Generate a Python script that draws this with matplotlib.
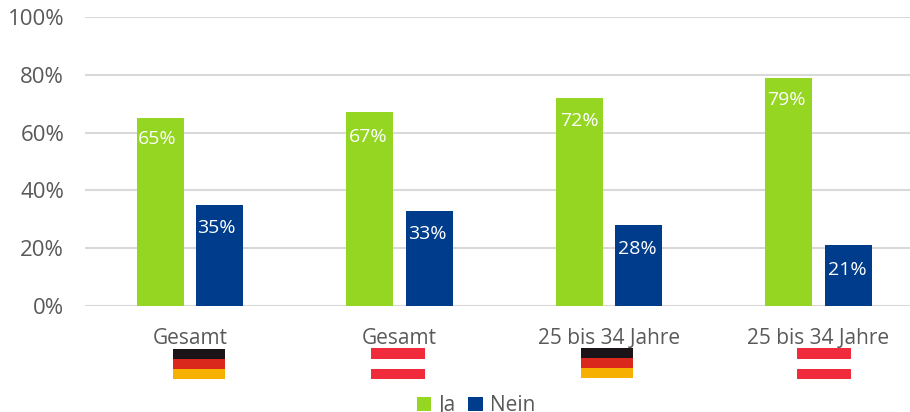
import matplotlib
matplotlib.use('Agg')
import matplotlib.pyplot as plt
from matplotlib.patches import Rectangle
from matplotlib.transforms import blended_transform_factory
import numpy as np

categories = ['Gesamt', 'Gesamt', '25 bis 34 Jahre', '25 bis 34 Jahre']
flags = ['de', 'at', 'de', 'at']
ja = [65, 67, 72, 79]
nein = [35, 33, 28, 21]
yticks = [0, 20, 40, 60, 80, 100]

GREEN = '#94D621'
BLUE = '#003C8C'
TEXT = '#595959'
W, H = 910, 412

plt.rcParams['font.family'] = ['Open Sans', 'DejaVu Sans']

fig = plt.figure(figsize=(W / 100, H / 100), dpi=100)
# plot area in pixels: x 85..910, y 17..306 from the top
ax = fig.add_axes([85 / W, 1 - 306 / H, (910 - 85) / W, (306 - 17) / H])

x = np.arange(len(categories))
step = 209.5
bw = 47 / step
off = 29.75 / step
ax.bar(x - off, ja, bw, color=GREEN, label='Ja', zorder=3)
ax.bar(x + off, nein, bw, color=BLUE, label='Nein', zorder=3)

ax.set_xlim(-0.5, -0.5 + 825 / step)
ax.set_ylim(0, 100)
ax.set_yticks(yticks)
ax.set_yticklabels([f'{v}%' for v in yticks], fontsize=16, color=TEXT)
ax.set_xticks(x)
ax.set_xticklabels(categories, fontsize=15, color=TEXT)
ax.tick_params(axis='both', length=0)
ax.tick_params(axis='y', pad=15)
ax.tick_params(axis='x', pad=16)
ax.grid(axis='y', color='#D9D9D9', linewidth=1.5, zorder=0)
ax.set_axisbelow(True)
for s in ax.spines.values():
    s.set_visible(False)

# value labels were placed by hand in the original, so each has its own nudge (pixels)
px = 72 / 100
ja_nudge = [(-3, -21.3), (-1, -25), (0, -22.7), (-2.5, -21.9)]
nein_nudge = [(-2.7, -23.5), (-2, -23), (-1.5, -24), (-1, -24.3)]
for i in x:
    dx, dy = ja_nudge[i]
    ax.annotate(f'{ja[i]}%', (i - off, ja[i]), xytext=(dx * px, dy * px), textcoords='offset points',
                ha='center', va='center', color='white', fontsize=14)
    dx, dy = nein_nudge[i]
    ax.annotate(f'{nein[i]}%', (i + off, nein[i]), xytext=(dx * px, dy * px), textcoords='offset points',
                ha='center', va='center', color='white', fontsize=14)

# flags under the tick labels, x from data, y in figure pixels
tr = blended_transform_factory(ax.transData, fig.dpi_scale_trans)


def stripe(xc, top, bottom, width, color):
    y0 = (H - bottom) / 100
    w = width / step
    ax.add_patch(Rectangle((xc - w / 2, y0), w, (bottom - top) / 100, transform=tr,
                           facecolor=color, edgecolor='none', clip_on=False))


flag_shift = [9, -1, -2, 5.5]
flag_top = [349, 348, 348, 348]
for i, fl in zip(x, flags):
    xc = i + flag_shift[i] / step
    top = flag_top[i]
    if fl == 'de':
        for k, c in enumerate(['#1A1418', '#DA291C', '#F5B000']):
            stripe(xc, top + k * 10, top + (k + 1) * 10, 52, c)
    else:
        stripe(xc, top, top + 11, 54, '#EF2B3C')
        stripe(xc, top + 21, top + 31, 54, '#EF2B3C')

leg = fig.legend(loc='lower center', bbox_to_anchor=(476 / W, -23 / H), ncol=2, frameon=False,
                 fontsize=15, handlelength=0.7, handleheight=0.7, handletextpad=0.35,
                 columnspacing=0.6, labelcolor=TEXT)

fig.savefig('out.png', dpi=100)
